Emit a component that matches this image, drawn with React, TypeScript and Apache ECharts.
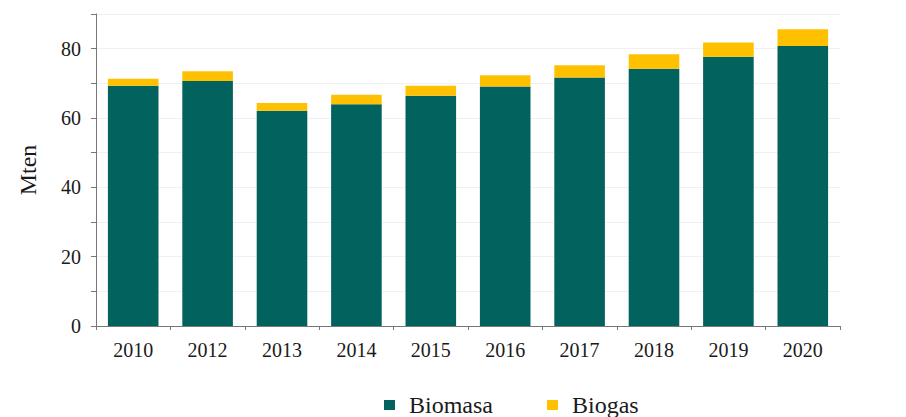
import React, { useEffect, useRef } from "react";
import * as echarts from "echarts";

const categories = ["2010", "2012", "2013", "2014", "2015", "2016", "2017", "2018", "2019", "2020"];
const biomasa = [69.3, 70.7, 62.1, 64.0, 66.4, 69.1, 71.7, 74.2, 77.7, 80.8];
const biogas = [2.0, 2.8, 2.2, 2.7, 2.9, 3.2, 3.5, 4.2, 4.1, 4.8];
const seriesNames = ["Biomasa", "Biogas"];
const yAxisName = "Mten";

const FONT = '"Liberation Serif", "Times New Roman", serif';

export default function App() {
  const ref = useRef<HTMLDivElement>(null);
  useEffect(() => {
    if (!ref.current) return;
    const chart = echarts.init(ref.current, undefined, { renderer: "svg" });
    chart.setOption({
      animation: false,
      backgroundColor: "#ffffff",
      textStyle: { fontFamily: FONT },
      grid: { left: 79, right: 58, top: 6, bottom: 91 },
      legend: {
        data: seriesNames,
        top: 380,
        left: 371,
        itemWidth: 11,
        itemHeight: 10,
        itemGap: 54,
        icon: "rect",
        formatter: (n: string) => `{t|${n}}`,
        textStyle: {
          fontFamily: FONT,
          fontSize: 24,
          color: "#1a1a1a",
          rich: {
            t: { fontFamily: FONT, fontSize: 24, color: "#1a1a1a", padding: [0, 0, 0, 9] },
          },
        },
      },
      xAxis: {
        type: "category",
        data: categories,
        axisLine: { lineStyle: { color: "#777", width: 1 } },
        axisTick: { show: true, length: 4, lineStyle: { color: "#777" } },
        axisLabel: { fontFamily: FONT, fontSize: 20, color: "#1a1a1a", margin: 14 },
      },
      yAxis: {
        type: "value",
        min: 0,
        max: 90,
        interval: 10,
        name: yAxisName,
        nameLocation: "middle",
        nameGap: 56,
        nameTextStyle: { fontFamily: FONT, fontSize: 24, color: "#1a1a1a" },
        axisLine: { show: true, lineStyle: { color: "#777", width: 1 } },
        axisTick: { show: true, length: 5, lineStyle: { color: "#777" } },
        axisLabel: {
          fontFamily: FONT,
          fontSize: 20,
          color: "#1a1a1a",
          margin: 15,
          formatter: (v: number) => (v % 20 === 0 ? String(v) : ""),
        },
        splitLine: { show: true, lineStyle: { color: "#f0f0f0", width: 1 } },
      },
      series: [
        {
          name: seriesNames[0],
          type: "bar",
          stack: "total",
          data: biomasa,
          barWidth: "68%",
          itemStyle: { color: "#02625E" },
        },
        {
          name: seriesNames[1],
          type: "bar",
          stack: "total",
          data: biogas,
          barWidth: "68%",
          itemStyle: { color: "#FFC000" },
        },
      ],
    });
    return () => chart.dispose();
  }, []);
  return <div ref={ref} style={{ width: 890, height: 409 }} />;
}
